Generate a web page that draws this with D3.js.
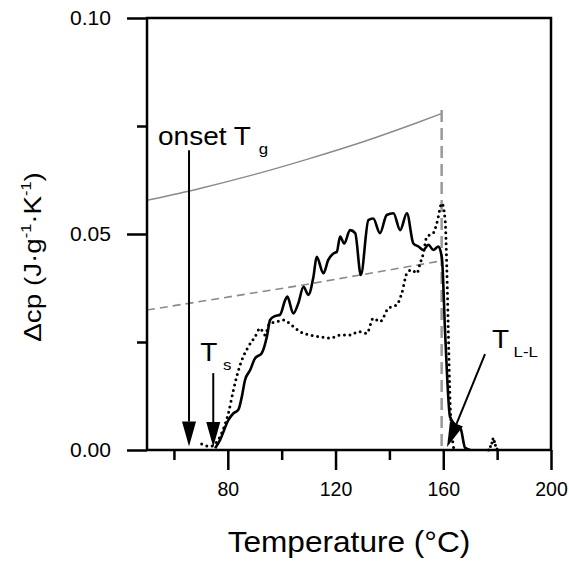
<!DOCTYPE html>
<html>
<head>
<meta charset="utf-8">
<script src="https://cdn.jsdelivr.net/npm/d3@7"></script>
<style>
body { margin: 0; background: #fff; }
text { font-family: "Liberation Sans", Arial, sans-serif; fill: #000; }
</style>
</head>
<body>
<svg width="569" height="562"></svg>
<script>
// measured curve (solid) - temperature / delta cp
const solidT = [75.3, 77.1, 80.2, 82.1, 83.9, 85.2, 86.4, 88.3, 90.1, 92.6, 94.5, 95.7, 97.5, 99.4, 101.3, 102.1, 104.3, 106.2, 108.1, 109.9, 111.8, 113.0, 115.5, 117.3, 119.2, 120.5, 121.7, 123.2, 125.4, 127.3, 129.4, 132.2, 134.0, 136.5, 139.0, 141.5, 144.0, 146.5, 148.9, 150.8, 152.6, 154.5, 156.3, 158.2, 159.5, 160.7, 162.5, 164.5, 166.5, 168.1, 170.0];
const solidV = [0.0004, 0.0023, 0.0069, 0.0085, 0.0093, 0.0123, 0.0162, 0.0185, 0.0212, 0.0224, 0.0262, 0.0301, 0.0310, 0.0313, 0.0347, 0.0355, 0.0316, 0.0340, 0.0378, 0.0359, 0.0401, 0.0447, 0.0409, 0.0440, 0.0455, 0.0459, 0.0494, 0.0478, 0.0509, 0.0502, 0.0405, 0.0532, 0.0536, 0.0502, 0.0544, 0.0548, 0.0509, 0.0548, 0.0478, 0.0471, 0.0463, 0.0475, 0.0463, 0.0471, 0.0444, 0.0270, 0.0077, 0.0058, 0.0048, 0.0005, 0];

// dotted curve
const dotT = [70.3, 73.4, 77.7, 80.2, 82.1, 83.3, 85.2, 87.6, 90.1, 92.0, 93.8, 95.5, 98.2, 100.6, 103.7, 106.8, 110.5, 114.2, 118.0, 121.7, 125.4, 128.5, 131.6, 134.0, 136.5, 139.6, 142.7, 144.6, 146.5, 148.3, 150.2, 151.4, 152.6, 153.9, 156.3, 157.6, 159.5, 160.7, 161.3, 161.9, 162.5, 163.2, 164.0];
const dotV = [0.0014, 0.0008, 0.0039, 0.0085, 0.0139, 0.0170, 0.0208, 0.0239, 0.0262, 0.0282, 0.0266, 0.0293, 0.0297, 0.0301, 0.0289, 0.0274, 0.0266, 0.0262, 0.0259, 0.0266, 0.0266, 0.0274, 0.0270, 0.0305, 0.0297, 0.0328, 0.0336, 0.0363, 0.0409, 0.0417, 0.0409, 0.0432, 0.0455, 0.0494, 0.0502, 0.0525, 0.0571, 0.0532, 0.0424, 0.0270, 0.0116, 0.0039, 0];
const dot2T = [176.8, 178.0, 178.6, 179.3, 180.2];
const dot2V = [0, 0.0015, 0.0027, 0.0012, 0];

// grey construction lines
const liquidT = [50, 70, 90, 110, 130, 150, 159.4];
const liquidV = [0.0578, 0.0606, 0.0638, 0.0674, 0.0713, 0.0757, 0.0779];
const glassT = [50, 108, 159.4];
const glassV = [0.0324, 0.0382, 0.0438];
const endT = 159.4;
const endTop = 0.0787;

// axes
const xMajor = [80, 120, 160, 200];
const xMinor = [60, 100, 140, 180];
const yMajor = [0, 0.05, 0.10];
const yMinor = [0.025, 0.075];

// arrows: from (T,v) to tip (T,v)
const arrows = [
  { x1: 65.6, y1: 0.0694, x2: 65.6, y2: 0.0008 },
  { x1: 74.6, y1: 0.0178, x2: 74.6, y2: 0.0007 },
  { x1: 175.5, y1: 0.0222, x2: 161.4, y2: 0.0007 }
];
// labels: main text + subscript
const labels = [
  { t: 54.1, v: 0.0706, main: "onset T", sub: "g", dx: 7 },
  { t: 69.8, v: 0.0207, main: "T", sub: "s", dx: 5 },
  { t: 178.1, v: 0.0235, main: "T", sub: "L-L", dx: 4 }
];

const svg = d3.select("svg");
const margin = { top: 18, right: 18, bottom: 112, left: 147 };
const W = 569 - margin.left - margin.right;
const H = 562 - margin.top - margin.bottom;

const x = d3.scaleLinear().domain([50, 200]).range([0, W]);
const y = d3.scaleLinear().domain([0, 0.10]).range([H, 0]);

const g = svg.append("g").attr("transform", `translate(${margin.left},${margin.top})`);

// grey liquid line
const line = d3.line().x(d => x(d[0])).y(d => y(d[1]));
g.append("path")
  .datum(d3.zip(liquidT, liquidV))
  .attr("d", line.curve(d3.curveMonotoneX))
  .attr("fill", "none").attr("stroke", "#8a8a8a").attr("stroke-width", 1.4);

g.append("path")
  .datum(d3.zip(glassT, glassV))
  .attr("d", line.curve(d3.curveLinear))
  .attr("fill", "none").attr("stroke", "#8a8a8a").attr("stroke-width", 1.6)
  .attr("stroke-dasharray", "8,5");

g.append("line")
  .attr("x1", x(endT)).attr("x2", x(endT))
  .attr("y1", y(endTop)).attr("y2", y(0))
  .attr("stroke", "#999").attr("stroke-width", 2.5)
  .attr("stroke-dasharray", "12,6");

// measured curves
g.append("path")
  .datum(d3.zip(dotT, dotV))
  .attr("d", line.curve(d3.curveMonotoneX))
  .attr("fill", "none").attr("stroke", "#000").attr("stroke-width", 3)
  .attr("stroke-linecap", "round").attr("stroke-dasharray", "0,5.5");

g.append("path")
  .datum(d3.zip(dot2T, dot2V))
  .attr("d", line.curve(d3.curveMonotoneX))
  .attr("fill", "none").attr("stroke", "#000").attr("stroke-width", 3)
  .attr("stroke-linecap", "round").attr("stroke-dasharray", "0,4");

g.append("path")
  .datum(d3.zip(solidT, solidV))
  .attr("d", line.curve(d3.curveMonotoneX))
  .attr("fill", "none").attr("stroke", "#000").attr("stroke-width", 2.6)
  .attr("stroke-linejoin", "round");

// arrows
arrows.forEach(a => {
  const px1 = x(a.x1), py1 = y(a.y1), px2 = x(a.x2), py2 = y(a.y2);
  const len = Math.hypot(px2 - px1, py2 - py1);
  const ux = (px2 - px1) / len, uy = (py2 - py1) / len;
  const hl = 25, hw = 7;
  const bx = px2 - ux * hl, by = py2 - uy * hl;
  g.append("line")
    .attr("x1", px1).attr("y1", py1).attr("x2", bx).attr("y2", by)
    .attr("stroke", "#000").attr("stroke-width", 2);
  g.append("path")
    .attr("d", `M${px2},${py2}L${bx - uy * hw},${by + ux * hw}L${bx + uy * hw},${by - ux * hw}Z`)
    .attr("fill", "#000");
});

// labels
labels.forEach(l => {
  const t = g.append("text")
    .attr("transform", `translate(${x(l.t)},${y(l.v)}) scale(1.12,1)`)
    .style("font-size", "25px");
  t.append("tspan").text(l.main);
  t.append("tspan").attr("dx", l.dx).attr("dy", 9).style("font-size", "15px").text(l.sub);
});

// axes
const xAxis = g.append("g").attr("transform", `translate(0,${H})`);
xAxis.call(d3.axisBottom(x).tickValues(xMajor).tickSize(20).tickPadding(12).tickFormat(d3.format("d")));
xAxis.append("g").call(d3.axisBottom(x).tickValues(xMinor).tickSize(10).tickFormat(""));
xAxis.selectAll(".domain").remove();

const yAxis = g.append("g");
yAxis.call(d3.axisLeft(y).tickValues(yMajor).tickSize(20).tickPadding(16).tickFormat(d3.format(".2f")));
yAxis.append("g").call(d3.axisLeft(y).tickValues(yMinor).tickSize(10).tickFormat(""));
yAxis.selectAll(".domain").remove();

g.selectAll(".tick line").attr("stroke", "#000").attr("stroke-width", 2.5);
g.selectAll(".tick text").style("font-size", "19.5px").attr("fill", "#000");
// slightly wider glyphs on the y labels, keeping the right edge in place
yAxis.selectAll(".tick text")
  .attr("x", -36 / 1.08)
  .attr("transform", "scale(1.08,1)");

// frame
g.append("rect")
  .attr("x", 0).attr("y", 0).attr("width", W).attr("height", H)
  .attr("fill", "none").attr("stroke", "#000").attr("stroke-width", 2.5);

// axis titles
svg.append("text")
  .attr("transform", `translate(${margin.left + W / 2},${552}) scale(1.09,1)`)
  .attr("text-anchor", "middle")
  .style("font-size", "29px")
  .text("Temperature (°C)");

const yt = svg.append("text")
  .attr("transform", `translate(41,257) rotate(-90) scale(1.16,1)`)
  .attr("text-anchor", "middle")
  .style("font-size", "24px");
yt.append("tspan").text("\u0394cp (J\u00b7g");
yt.append("tspan").attr("dy", -10).style("font-size", "14px").text("-1");
yt.append("tspan").attr("dy", 10).text("\u00b7K");
yt.append("tspan").attr("dy", -10).style("font-size", "14px").text("-1");
yt.append("tspan").attr("dy", 10).text(")");
</script>
</body>
</html>
